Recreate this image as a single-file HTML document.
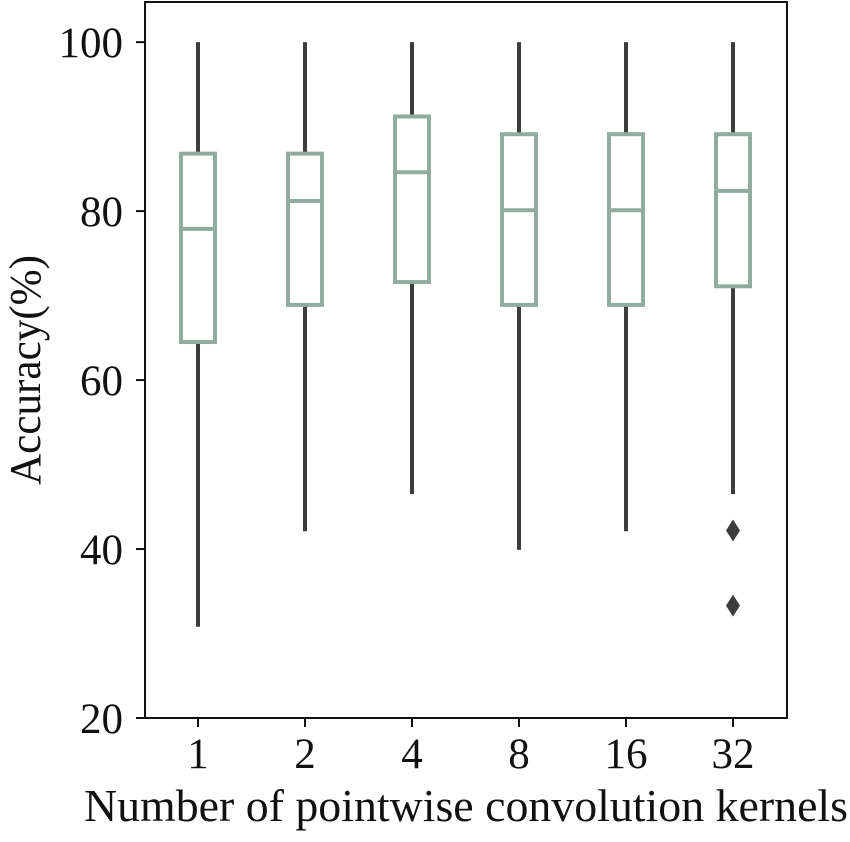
<!DOCTYPE html>
<html><head><meta charset="utf-8"><style>
body{margin:0;background:#fff;}
svg text{font-family:"Liberation Serif",serif;fill:#111;}
</style></head><body>
<svg id="chart" width="850" height="837" xmlns="http://www.w3.org/2000/svg"></svg>
<script>
const categories=["1","2","4","8","16","32"];
const whiskerLow=[30.8,42.1,46.5,39.9,42.1,46.5];
const whiskerHigh=[100,100,100,100,100,100];
const q1=[64.5,68.9,71.6,68.9,68.9,71.1];
const q3=[86.8,86.8,91.2,89.1,89.1,89.1];
const medians=[77.9,81.2,84.6,80.1,80.1,82.4];
const fliers=[[],[],[],[],[],[42.2,33.3]];
const yTicks=[20,40,60,80,100];

const NS="http://www.w3.org/2000/svg";
const svg=document.getElementById('chart');
const L=145,R=787,T=2,B=718,yMin=20,yMax=104.75;
const y=v=>B-(v-yMin)/(yMax-yMin)*(B-T);
const x=i=>198+i*107;
function el(t,a,p){const e=document.createElementNS(NS,t);for(const k in a)e.setAttribute(k,a[k]);(p||svg).appendChild(e);return e;}

const axes=el('rect',{x:L,y:T,width:R-L,height:B-T,fill:'none',stroke:'#111','stroke-width':2});



yTicks.forEach(v=>{
  const t=el('line',{x1:L-9,x2:L,y1:y(v),y2:y(v),stroke:'#111','stroke-width':2});
  
  
  const lb=el('text',{x:L-22,y:y(v)+15,'text-anchor':'end','font-size':43});
  lb.textContent=v;
  
  
});

categories.forEach((c,i)=>{
  const cx=x(i),hw=17;
  const t=el('line',{x1:cx,x2:cx,y1:B,y2:B+9,stroke:'#111','stroke-width':2});
  
  
  const lb=el('text',{x:cx,y:768,'text-anchor':'middle','font-size':43});
  lb.textContent=c;
  
  
  const wl=el('line',{x1:cx,x2:cx,y1:y(q1[i]),y2:y(whiskerLow[i]),stroke:'#3d3d3d','stroke-width':4});
  
  
  const wh=el('line',{x1:cx,x2:cx,y1:y(q3[i]),y2:y(whiskerHigh[i]),stroke:'#3d3d3d','stroke-width':4});
  
  
  const bx=el('rect',{x:cx-hw,y:y(q3[i]),width:hw*2,height:y(q1[i])-y(q3[i]),fill:'#fff',stroke:'#8fac9f','stroke-width':4});
  
  
  const md=el('line',{x1:cx-hw,x2:cx+hw,y1:y(medians[i]),y2:y(medians[i]),stroke:'#8fac9f','stroke-width':4});
  
  
  fliers[i].forEach(v=>{
    const fy=y(v);
    const f=el('polygon',{points:`${cx},${fy-11} ${cx+7},${fy} ${cx},${fy+11} ${cx-7},${fy}`,fill:'#3d3d3d'});
    
    
  });
});

const xt=el('text',{x:466,y:821,'text-anchor':'middle','font-size':46,textLength:764,lengthAdjust:'spacingAndGlyphs'});
xt.textContent='Number of pointwise convolution kernels';


const yt=el('text',{x:0,y:0,'text-anchor':'middle','font-size':44,textLength:230,lengthAdjust:'spacingAndGlyphs',transform:'translate(40,370) rotate(-90)'});
yt.textContent='Accuracy(%)';


</script>
</body></html>
